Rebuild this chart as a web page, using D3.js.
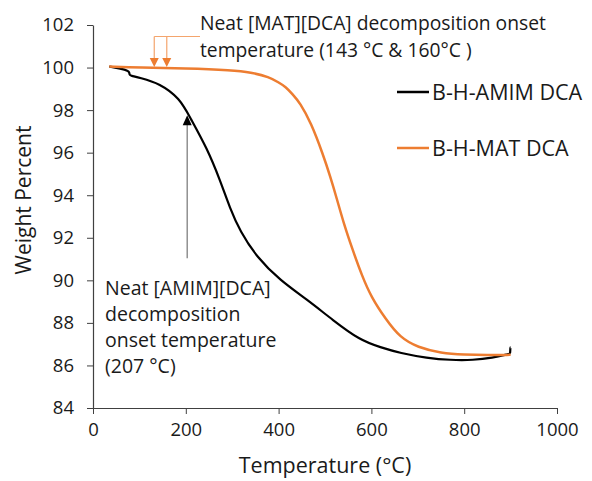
<!DOCTYPE html>
<html>
<head>
<meta charset="utf-8">
<script src="https://cdn.jsdelivr.net/npm/d3@7"></script>
<style>
  body { margin: 0; background: #fff; }
  svg text { font-family: "Open Sans", sans-serif; fill: #1a1a1a; }
  .axis path, .axis line { stroke: #404040; }
  .axis text { font-size: 18.5px; fill: #1a1a1a; }
</style>
</head>
<body>
<div id="chart"></div>
<script>

// Data (temperature in °C, weight percent)
var amim_temp   = [ 35, 60, 76, 78, 79, 81, 100, 144, 187, 209, 246, 274, 295, 317, 353, 403, 461, 517, 575, 620, 662, 720, 770, 820, 860, 898, 899, 899.5, 900 ];
var amim_weight = [ 100.05, 99.95, 99.85, 99.78, 99.65, 99.62, 99.53, 99.25, 98.55, 97.66, 96.2, 94.7, 93.4, 92.3, 91.09, 90.0, 89.1, 88.13, 87.19, 86.85, 86.58, 86.35, 86.25, 86.25, 86.35, 86.55, 86.55, 86.85, 86.85 ];

var mat_temp   = [ 35, 100, 200, 300, 340, 380, 400, 415, 430, 446, 470, 496, 511, 526, 540, 560, 580, 600, 630, 662, 700, 750, 800, 850, 900 ];
var mat_weight = [ 100.05, 100.0, 99.97, 99.88, 99.78, 99.55, 99.3, 99.1, 98.75, 98.35, 97.4, 95.9, 94.9, 93.8, 92.7, 91.4, 90.2, 89.2, 88.2, 87.3, 86.85, 86.58, 86.5, 86.48, 86.5 ];

var series_names  = [ 'B-H-AMIM DCA', 'B-H-MAT DCA' ];
var series_colors = [ '#000000', '#ed7d31' ];

var x_ticks = [ 0, 200, 400, 600, 800, 1000 ];
var y_ticks = [ 84, 86, 88, 90, 92, 94, 96, 98, 100, 102 ];

// Onset arrows
var mat_onset  = [ 132, 159 ];   // where the orange arrows sit
var amim_onset = 203;            // where the black arrow sits

var mat_note  = [ 'Neat [MAT][DCA] decomposition onset', 'temperature (143 °C & 160°C )' ];
var amim_note = [ 'Neat [AMIM][DCA]', 'decomposition', 'onset temperature', '(207 °C)' ];

// Size
var width = 592;
var height = 481;

var x = d3.scaleLinear().domain( [0, 1000] ).range( [93, 557] );
var y = d3.scaleLinear().domain( [84, 102] ).range( [408, 25] );

var svg = d3.select( '#chart' )
            .append( 'svg' )
            .attr( 'width', width )
            .attr( 'height', height );

// Axes
svg.append( 'g' )
    .attr( 'class', 'x axis' )
    .attr( 'transform', 'translate(0,' + y( 84 ) + ')' )
    .call( d3.axisBottom( x ).tickValues( x_ticks ).tickFormat( d3.format( 'd' ) )
             .tickSizeInner( 6 ).tickSizeOuter( 0 ).tickPadding( 9 ) );

svg.append( 'g' )
    .attr( 'class', 'y axis' )
    .attr( 'transform', 'translate(' + x( 0 ) + ',0)' )
    .call( d3.axisLeft( y ).tickValues( y_ticks ).tickSizeInner( 6 ).tickSizeOuter( 0 ).tickPadding( 13 ) );

svg.selectAll( '.axis path' ).attr( 'stroke-width', 1.2 );

// Axis titles
svg.append( 'text' )
    .attr( 'x', ( x( 0 ) + x( 1000 ) ) / 2 )
    .attr( 'y', 473 )
    .attr( 'text-anchor', 'middle' )
    .style( 'font-size', '21.5px' )
    .text( 'Temperature (°C)' );

svg.append( 'text' )
    .attr( 'transform', 'translate(31,200) rotate(-90)' )
    .attr( 'text-anchor', 'middle' )
    .style( 'font-size', '21px' )
    .text( 'Weight Percent' );

// Curves
var line = d3.line()
             .x( function ( d ) { return x( d[0] ); } )
             .y( function ( d ) { return y( d[1] ); } )
             .curve( d3.curveBasis );

var amim_data = d3.zip( amim_temp, amim_weight );
var mat_data = d3.zip( mat_temp, mat_weight );

svg.append( 'path' )
    .datum( amim_data )
    .attr( 'd', line )
    .attr( 'fill', 'none' )
    .attr( 'stroke', series_colors[0] )
    .attr( 'stroke-width', 2.2 );

svg.append( 'path' )
    .datum( mat_data )
    .attr( 'd', line )
    .attr( 'fill', 'none' )
    .attr( 'stroke', series_colors[1] )
    .attr( 'stroke-width', 2.5 );

// Orange onset arrows
var mat_top = y( 101.46 );
var mat_tip = y( 100.03 );

svg.append( 'path' )
    .attr( 'd', 'M' + x( mat_onset[0] ) + ',' + mat_top + 'H200' )
    .attr( 'fill', 'none' )
    .attr( 'stroke', '#f4a56d' )
    .attr( 'stroke-width', 1.2 );

mat_onset.forEach( function ( t ) {

    var cx = x( t );

    svg.append( 'line' )
        .attr( 'x1', cx ).attr( 'x2', cx )
        .attr( 'y1', mat_top ).attr( 'y2', mat_tip - 8 )
        .attr( 'stroke', '#f4a56d' )
        .attr( 'stroke-width', 1.2 );

    svg.append( 'path' )
        .attr( 'd', 'M' + ( cx - 4.5 ) + ',' + ( mat_tip - 9 ) + 'L' + ( cx + 4.5 ) + ',' + ( mat_tip - 9 ) + 'L' + cx + ',' + mat_tip + 'Z' )
        .attr( 'fill', '#ed7d31' );

} );

// Black onset arrow
var amim_bottom = y( 91.04 );
var amim_tip = y( 97.76 );

svg.append( 'line' )
    .attr( 'x1', x( amim_onset ) ).attr( 'x2', x( amim_onset ) )
    .attr( 'y1', amim_bottom ).attr( 'y2', amim_tip + 8 )
    .attr( 'stroke', '#7f7f7f' )
    .attr( 'stroke-width', 1.3 );

svg.append( 'path' )
    .attr( 'd', 'M' + ( x( amim_onset ) - 4.5 ) + ',' + ( amim_tip + 10 ) + 'L' + ( x( amim_onset ) + 4.5 ) + ',' + ( amim_tip + 10 ) + 'L' + x( amim_onset ) + ',' + amim_tip + 'Z' )
    .attr( 'fill', '#000' );

// Annotation texts
svg.append( 'g' )
    .selectAll( 'text' )
    .data( mat_note ).enter()
    .append( 'text' )
    .attr( 'x', 200 )
    .attr( 'y', function ( d, i ) { return 30 + i * 27; } )
    .style( 'font-size', '19.3px' )
    .text( function ( d ) { return d; } );

svg.append( 'g' )
    .selectAll( 'text' )
    .data( amim_note ).enter()
    .append( 'text' )
    .attr( 'x', 105 )
    .attr( 'y', function ( d, i ) { return 295 + i * 26; } )
    .style( 'font-size', '19.5px' )
    .text( function ( d ) { return d; } );

// Legend
var legend = svg.selectAll( '.legend' )
                .data( series_names ).enter()
                .append( 'g' )
                .attr( 'class', 'legend' )
                .attr( 'transform', function ( d, i ) { return 'translate(397,' + ( 92 + i * 56 ) + ')'; } );

legend.append( 'line' )
    .attr( 'x1', 0 ).attr( 'x2', 32 )
    .attr( 'stroke', function ( d, i ) { return series_colors[i]; } )
    .attr( 'stroke-width', 2.5 );

legend.append( 'text' )
    .attr( 'x', 35 )
    .attr( 'y', 7.5 )
    .style( 'font-size', '21.5px' )
    .text( function ( d ) { return d; } );

</script>
</body>
</html>
